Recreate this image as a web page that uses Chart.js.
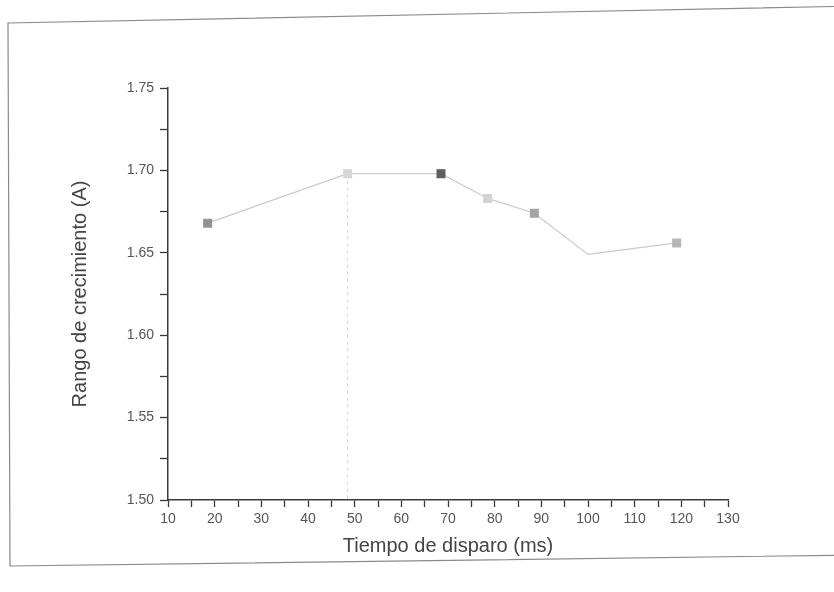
<!DOCTYPE html>
<html>
<head>
<meta charset="utf-8">
<script src="https://cdn.jsdelivr.net/npm/chart.js@4"></script>
<style>
  html, body { margin: 0; padding: 0; background: #fff; }
  #wrap { position: relative; width: 834px; height: 592px; overflow: hidden; }
  #frame, canvas { position: absolute; left: 0; top: 0; }
</style>
</head>
<body>
<div id="wrap">
  <!-- marco escaneado, un poco torcido -->
  <svg id="frame" width="834" height="592">
    <polyline points="860,6 8,23 10,566 860,555" fill="none" stroke="#8a8a8a" stroke-width="1.2"/>
  </svg>
  <canvas id="chart" width="834" height="592"></canvas>
</div>
<script>
// tiempo de disparo (ms) y rango de crecimiento (A)
const tiempos = [18.5, 48.5, 68.5, 78.5, 88.5, 100, 119];
const rangos = [1.668, 1.698, 1.698, 1.683, 1.674, 1.649, 1.656];
const colorMarcador = ['#8f9290', '#d6d6d6', '#5d5f5e', '#d2d2d2', '#a3a6a4', 'rgba(0,0,0,0)', '#b3b5b4'];

// linea punteada vertical en 50 ms
const guiaX = [48.5, 48.5];
const guiaY = [1.698, 1.50];

const xMin = 10, xMax = 130;
const yMin = 1.50, yMax = 1.75;

const fuente = 'Liberation Sans, Arial, sans-serif';
const ctx = document.getElementById('chart').getContext('2d');

new Chart(ctx, {
  type: 'scatter',
  data: {
    datasets: [
      {
        data: tiempos.map((t, i) => ({ x: t, y: rangos[i] })),
        showLine: true,
        borderColor: '#c9cbca',
        borderWidth: 1.2,
        pointStyle: 'rect',
        pointRadius: 5.5,
        pointBackgroundColor: colorMarcador,
        pointBorderColor: colorMarcador,
        order: 1
      },
      {
        data: guiaX.map((t, i) => ({ x: t, y: guiaY[i] })),
        showLine: true,
        borderColor: '#d4d4d4',
        borderWidth: 1,
        borderDash: [3, 4],
        pointRadius: 0,
        order: 2
      }
    ]
  },
  options: {
    responsive: false,
    animation: false,
    layout: { padding: { top: 88, right: 106, left: 66, bottom: 32 } },
    plugins: { legend: { display: false }, tooltip: { enabled: false } },
    scales: {
      x: {
        type: 'linear',
        min: xMin,
        max: xMax,
        afterFit: s => { s.height = 60; },
        border: { color: '#3a3a3a', width: 1.5 },
        grid: { drawOnChartArea: false, color: '#3a3a3a', tickLength: 7, tickWidth: 1.3 },
        ticks: {
          stepSize: 5,
          autoSkip: false,
          maxRotation: 0,
          color: '#555',
          padding: 4,
          font: { family: fuente, size: 14 },
          callback: v => (v % 10 === 0 ? String(v) : '')
        },
        title: {
          display: true,
          text: 'Tiempo de disparo (ms)',
          color: '#444',
          padding: { top: 6, bottom: 2 },
          font: { family: fuente, size: 20 }
        }
      },
      y: {
        type: 'linear',
        min: yMin,
        max: yMax,
        afterFit: s => { s.width = 102; },
        border: { color: '#3a3a3a', width: 1.5 },
        grid: { drawOnChartArea: false, color: '#3a3a3a', tickLength: 8, tickWidth: 1.3 },
        ticks: {
          stepSize: 0.025,
          autoSkip: false,
          color: '#555',
          padding: 6,
          font: { family: fuente, size: 14 },
          callback: v => (Math.round(v * 1000) % 50 === 0 ? v.toFixed(2) : '')
        },
        title: {
          display: true,
          text: 'Rango de crecimiento (A)',
          color: '#444',
          padding: { top: 2, bottom: 6 },
          font: { family: fuente, size: 20 }
        }
      }
    }
  }
});
</script>
</body>
</html>
